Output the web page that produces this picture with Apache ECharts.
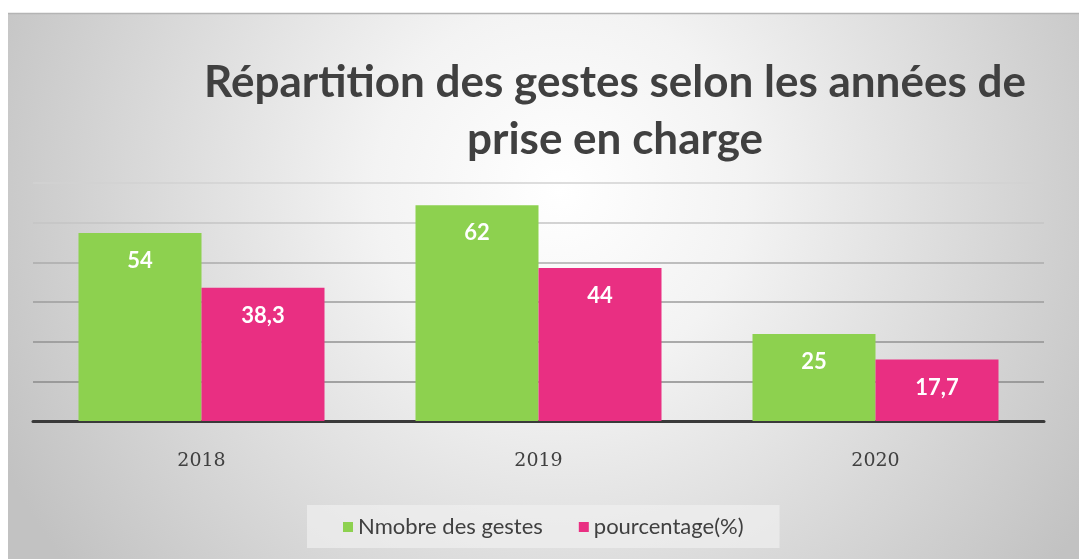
<!DOCTYPE html>
<html>
<head>
<meta charset="utf-8">
<style>
  html, body { margin: 0; padding: 0; background: #ffffff; }
  #chart { width: 1079px; height: 559px; }
</style>
<script src="https://cdn.jsdelivr.net/npm/echarts@6/dist/echarts.min.js"></script>
</head>
<body>
<div id="chart"></div>
<script>
// Années de prise en charge
const categories = ['2018', '2019', '2020'];
// Nombre de gestes par année
const nombreGestes = [54, 62, 25];
// Part de chaque année (%)
const pourcentages = [38.3, 44, 17.7];
const seriesNames = ['Nmobre des gestes', 'pourcentage(%)'];
const titleLines = ['Répartition des gestes selon les années de', 'prise en charge'];

const chart = echarts.init(document.getElementById('chart'), null, { renderer: 'canvas' });

const labelFmt = p => String(p.value).replace('.', ',');

const barLabel = {
  show: true, position: 'insideTop', distance: 17,
  color: '#ffffff', fontSize: 22, fontWeight: 'bold',
  fontFamily: 'Lato, sans-serif', formatter: labelFmt
};

chart.setOption({
  animation: false,
  graphic: [
    {
      type: 'rect', z: -10, silent: true,
      shape: { x: 8, y: 13, width: 1071, height: 546 },
      style: {
        fill: {
          type: 'radial', x: 560, y: 190, r: 620, global: true,
          colorStops: [
            { offset: 0, color: '#ffffff' },
            { offset: 0.3, color: '#f3f3f3' },
            { offset: 0.6, color: '#dedede' },
            { offset: 1, color: '#c2c2c2' }
          ]
        }
      }
    },
    {
      type: 'line', z: -9, silent: true,
      shape: { x1: 8, y1: 13.5, x2: 1079, y2: 13.5 },
      style: { stroke: '#b4b4b4', lineWidth: 1.5 }
    },
    {
      type: 'text', z: 10,
      x: 615, y: 54,
      style: {
        text: titleLines.join('\n'),
        textAlign: 'center',
        fill: '#404040',
        font: 'bold 44px Lato, "Open Sans", sans-serif',
        lineHeight: 57
      }
    }
  ],
  legend: {
    data: seriesNames,
    left: 307, top: 505,
    backgroundColor: 'rgba(240,240,240,0.7)',
    padding: [11, 36, 10, 36],
    itemWidth: 10, itemHeight: 10,
    itemGap: 36,
    icon: 'rect',
    textStyle: { color: '#404040', fontSize: 22, fontFamily: 'Lato, sans-serif' }
  },
  grid: { left: 33, right: 35, top: 183, bottom: 138 },
  xAxis: {
    type: 'category',
    data: categories,
    axisLine: { lineStyle: { color: '#3a3a3a', width: 3 } },
    axisTick: { show: false },
    axisLabel: {
      color: '#404040', fontSize: 19,
      fontFamily: '"DejaVu Serif", "Liberation Serif", serif',
      margin: 31
    }
  },
  yAxis: {
    type: 'value',
    min: 0, max: 68.4, interval: 11.4,
    axisLabel: { show: false },
    axisLine: { show: false },
    axisTick: { show: false },
    splitLine: {
      lineStyle: {
        width: 1.5,
        color: ['#8a8a8a', '#8a8a8a', '#929292', '#9c9c9c', '#ababab', '#c4c4c4', '#d2d2d2']
      }
    }
  },
  series: [
    {
      name: seriesNames[0], type: 'bar',
      data: nombreGestes,
      barGap: '0%', barCategoryGap: '27%',
      itemStyle: { color: '#8dd14f' },
      label: barLabel
    },
    {
      name: seriesNames[1], type: 'bar',
      data: pourcentages,
      itemStyle: { color: '#e92f82' },
      label: barLabel
    }
  ]
});
</script>
</body>
</html>
